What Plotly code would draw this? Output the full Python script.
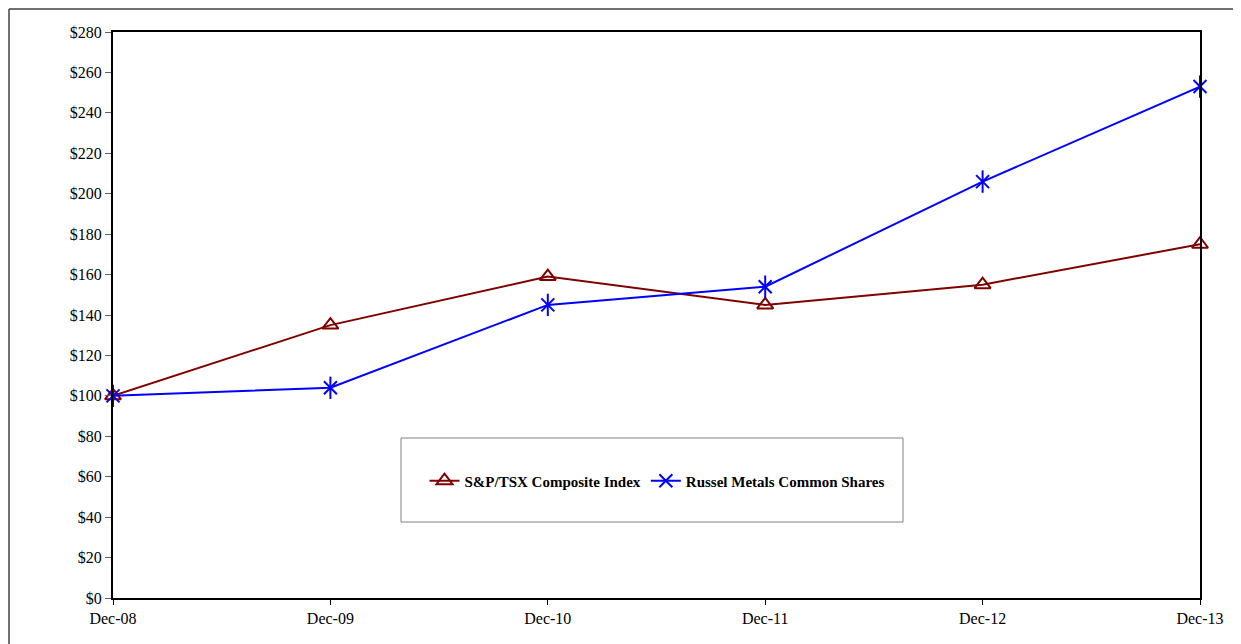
import plotly.graph_objects as go

categories = ["Dec-08", "Dec-09", "Dec-10", "Dec-11", "Dec-12", "Dec-13"]
sp_tsx = [100, 135, 159, 145, 155, 175]
russel = [100, 104, 145, 154, 206, 253]
y_ticks = list(range(0, 281, 20))
y_labels = ["$%d" % v for v in y_ticks]

xpos = list(range(len(categories)))

fig = go.Figure()
fig.add_trace(go.Scatter(
    x=xpos, y=sp_tsx, mode="lines+markers", name="S&P/TSX Composite Index",
    line=dict(color="#800000", width=2), cliponaxis=False,
    marker=dict(symbol="triangle-up-open", size=14, color="#800000", line=dict(width=2)),
))
fig.add_trace(go.Scatter(
    x=xpos, y=russel, mode="lines+markers", name="Russel Metals Common Shares",
    line=dict(color="#0000FF", width=2), cliponaxis=False,
    marker=dict(symbol="x-thin-open", size=13, color="#0000FF", line=dict(width=2, color="#0000FF")),
))
fig.add_trace(go.Scatter(
    x=xpos, y=russel, mode="markers", showlegend=False, hoverinfo="skip", cliponaxis=False,
    marker=dict(symbol="line-ns-open", size=16, color="#0000FF", line=dict(width=2, color="#0000FF")),
))

# page body has an 8px margin; compensate
OFF = 8
L, R, T, B = 113 - OFF, 41, 32 - OFF, 46
W, H = 1241 - OFF, 644 - OFF
pw = W - L - R
ph = H - T - B


def px_x(x):
    return (x - OFF - L) / pw


def px_y(y):
    return (H - B - (y - OFF)) / ph


font_family = "Liberation Serif, Times New Roman, serif"

fig.update_layout(
    width=W, height=H,
    margin=dict(l=L, r=R, t=T, b=B),
    paper_bgcolor="white", plot_bgcolor="white",
    font=dict(family=font_family, size=16, color="black"),
    showlegend=True,
    legend=dict(
        orientation="h", x=px_x(657), y=px_y(481),
        xanchor="center", yanchor="middle",
        font=dict(family=font_family, size=15, color="black", weight="bold"),
        bgcolor="rgba(0,0,0,0)", borderwidth=0,
        itemwidth=30,
    ),
    xaxis=dict(
        range=[0, 5], tickvals=xpos, ticktext=categories,
        showgrid=False, zeroline=False, showline=True, linecolor="black", linewidth=2,
        ticks="outside", ticklen=5, tickcolor="black", mirror=True,
    ),
    yaxis=dict(
        range=[0, 280], tickvals=y_ticks, ticktext=y_labels,
        showgrid=False, zeroline=False, showline=True, linecolor="black", linewidth=2,
        ticks="outside", ticklen=6, tickcolor="#606060", mirror=True,
    ),
)

# legend frame box (as seen in reference)
fig.add_shape(type="rect", xref="paper", yref="paper",
              x0=px_x(401), x1=px_x(903),
              y0=px_y(522), y1=px_y(438),
              line=dict(color="#808080", width=1), fillcolor="white", layer="below")

# outer chart frame (left and top edges visible)
fig.add_shape(type="line", xref="paper", yref="paper",
              x0=px_x(9), x1=px_x(1250), y0=px_y(9), y1=px_y(9),
              line=dict(color="#404040", width=1.5), layer="below")
fig.add_shape(type="line", xref="paper", yref="paper",
              x0=px_x(9), x1=px_x(9), y0=px_y(9), y1=px_y(660),
              line=dict(color="#404040", width=1.5), layer="below")

fig.write_html("out.html")
